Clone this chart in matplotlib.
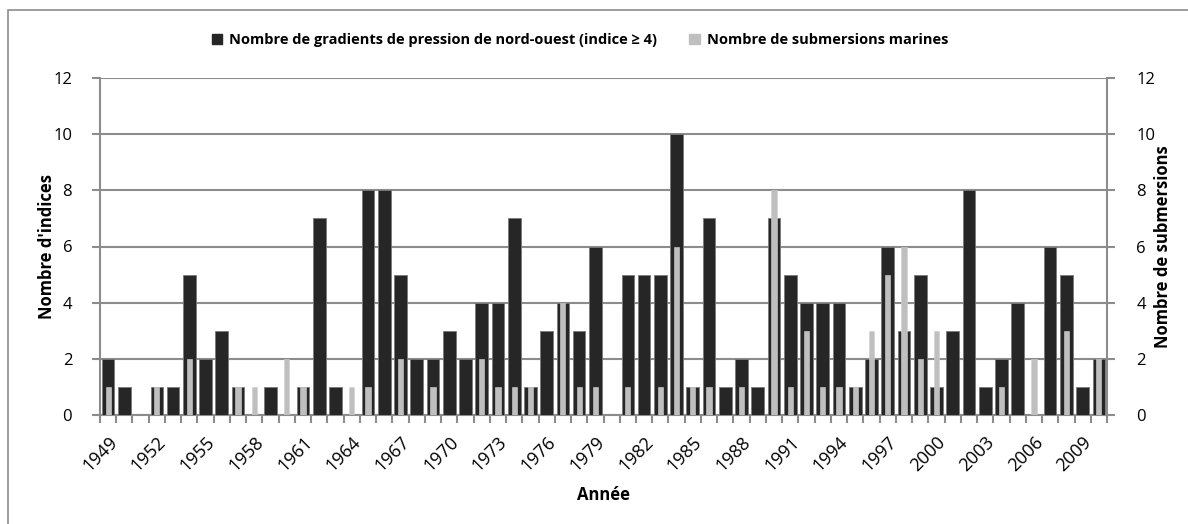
import matplotlib.pyplot as plt
import matplotlib.transforms as mtransforms
import numpy as np
from matplotlib.patches import Rectangle, Patch

# Years and values
years = list(range(1949, 2011))
gradients = [2, 1, 0, 1, 1, 5, 2, 3, 1, 0, 1, 0, 1, 7, 1, 0,
             8, 8, 5, 2, 2, 3, 2, 4, 4, 7, 1, 3, 4, 3, 6, 0,
             5, 5, 5, 10, 1, 7, 1, 2, 1, 7, 5, 4, 4, 4, 1, 2,
             6, 3, 5, 1, 3, 8, 1, 2, 4, 0, 6, 5, 1, 2]
submersions = [1, 0, 0, 1, 0, 2, 0, 0, 1, 1, 0, 2, 1, 0, 0, 1,
               1, 0, 2, 0, 1, 0, 0, 2, 1, 1, 1, 0, 4, 1, 1, 0,
               1, 0, 1, 6, 1, 1, 0, 1, 0, 8, 1, 3, 1, 1, 1, 3,
               5, 6, 2, 3, 0, 0, 0, 1, 0, 2, 0, 3, 0, 2]

plt.rcParams['font.family'] = ['Open Sans', 'DejaVu Sans']
W, H = 1188, 524
fig = plt.figure(figsize=(W / 100, H / 100), dpi=100)

# outer chart frame
fig.patches.append(Rectangle((8 / W, -0.1), 1.2, 1 - 10 / H + 0.1, transform=fig.transFigure,
                             fill=False, edgecolor='#8c8c8c', linewidth=1.2))

left, right, top, bottom = 100, 1107, 78, 415
ax = fig.add_axes([left / W, 1 - bottom / H, (right - left) / W, (bottom - top) / H])
ax2 = ax.twinx()

x = np.arange(len(years))
gc = '#8c8c8c'
ax.bar(x, gradients, width=0.78, color='#262626', edgecolor='#7a7a7a', linewidth=0.6, zorder=3)
ax2.bar(x, submersions, width=0.32, color='#bfbfbf', edgecolor='#d0d0d0', linewidth=0.4, zorder=3)

for a in (ax, ax2):
    a.set_ylim(0, 12)
    a.set_yticks(range(0, 13, 2))
    a.set_xlim(-0.5, len(years) - 0.5)
    for s in a.spines.values():
        s.set_visible(False)
    a.tick_params(axis='y', length=6, width=1.5, color=gc, labelsize=12)
ax.tick_params(axis='y', pad=14)
ax2.tick_params(axis='y', pad=15)

ax.grid(axis='y', color=gc, linewidth=1.5, zorder=0)
ax.set_axisbelow(True)
ax.spines['left'].set_visible(True)
ax.spines['bottom'].set_visible(True)
ax2.spines['right'].set_visible(True)
for s in (ax.spines['left'], ax.spines['bottom'], ax2.spines['right']):
    s.set_color(gc)
    s.set_linewidth(1.5)

# x ticks: marks at category boundaries, labels every 3 years
label_idx = list(range(0, len(years), 3))
ax.set_xticks(label_idx)
ax.set_xticklabels([str(years[i]) for i in label_idx], rotation=45, ha='right',
                   rotation_mode='anchor', fontsize=13)
shift = mtransforms.ScaledTranslation(6 / 100, 0, fig.dpi_scale_trans)
for lbl in ax.get_xticklabels():
    lbl.set_transform(lbl.get_transform() + shift)
ax.set_xticks(np.arange(-0.5, len(years)), minor=True)
ax.tick_params(axis='x', which='major', length=0, pad=13)
ax.tick_params(axis='x', which='minor', length=6, width=1.5, color=gc)
ax2.tick_params(axis='x', length=0)

ax.set_ylabel("Nombre d'indices", fontsize=12, fontweight='bold', labelpad=-2)
ax2.set_ylabel('Nombre de submersions', fontsize=12, fontweight='bold', labelpad=-1)
ax.set_xlabel('Année', fontsize=12, fontweight='bold', labelpad=8)

handles = [Patch(facecolor='#262626', edgecolor='#262626'),
           Patch(facecolor='#bfbfbf', edgecolor='#bfbfbf')]
labels = ['Nombre de gradients de pression de nord-ouest (indice ≥ 4)',
          'Nombre de submersions marines']
fig.legend(handles, labels, loc='center', bbox_to_anchor=(580 / W, 1 - 40 / H), ncol=2,
           frameon=False, prop={'weight': 'bold', 'size': 10.5},
           handlelength=0.7, handleheight=0.7, handletextpad=0.5, columnspacing=2.2)

fig.savefig('out.png', dpi=100)
